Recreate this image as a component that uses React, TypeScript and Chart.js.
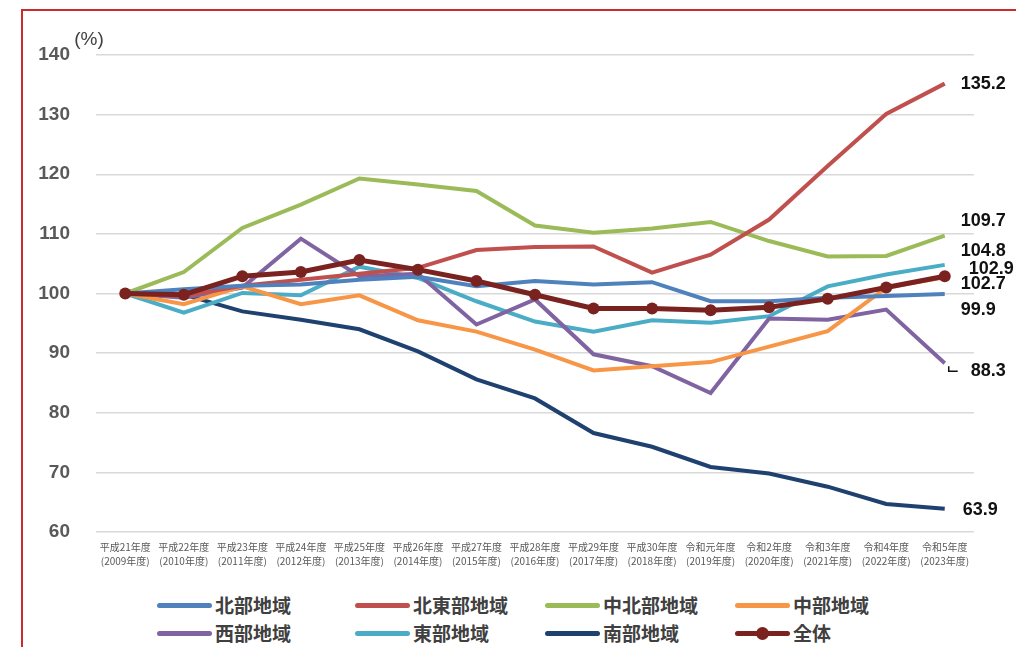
import React, { useEffect, useRef } from 'react';
import { Chart, registerables } from 'chart.js';

Chart.register(...registerables);

// ---- data ----
const eraLabels = [
  '平成21年度', '平成22年度', '平成23年度', '平成24年度', '平成25年度',
  '平成26年度', '平成27年度', '平成28年度', '平成29年度', '平成30年度',
  '令和元年度', '令和2年度', '令和3年度', '令和4年度', '令和5年度',
];
const yearLabels = [
  '(2009年度)', '(2010年度)', '(2011年度)', '(2012年度)', '(2013年度)',
  '(2014年度)', '(2015年度)', '(2016年度)', '(2017年度)', '(2018年度)',
  '(2019年度)', '(2020年度)', '(2021年度)', '(2022年度)', '(2023年度)',
];
const yTicks = [60, 70, 80, 90, 100, 110, 120, 130, 140];

const hokubu = [100, 100.7, 101.3, 101.5, 102.3, 102.8, 101.2, 102.1, 101.5, 101.9, 98.7, 98.7, 99.3, 99.6, 99.9];
const hokutobu = [100, 99.6, 101.3, 102.3, 103.3, 104.3, 107.3, 107.8, 107.9, 103.5, 106.5, 112.4, 121.4, 130.1, 135.2];
const chuhokubu = [100, 103.6, 111.0, 114.9, 119.3, 118.3, 117.2, 111.4, 110.2, 110.9, 112.0, 108.8, 106.2, 106.3, 109.7];
const chubu = [100, 98.2, 101.2, 98.2, 99.7, 95.5, 93.6, 90.6, 87.1, 87.8, 88.5, 91.1, 93.7, 101.0, 102.7];
const seibu = [100, 99.3, 101.0, 109.2, 102.9, 103.3, 94.8, 99.0, 89.8, 87.8, 83.3, 95.8, 95.6, 97.3, 88.3];
const tobu = [100, 96.8, 100.1, 99.7, 104.5, 102.6, 98.7, 95.3, 93.6, 95.5, 95.1, 96.2, 101.2, 103.2, 104.8];
const nanbu = [100, 99.8, 97.0, 95.6, 94.0, 90.3, 85.6, 82.4, 76.6, 74.3, 70.9, 69.8, 67.6, 64.7, 63.9];
const zentai = [100, 99.8, 102.9, 103.6, 105.6, 104.0, 102.1, 99.8, 97.5, 97.5, 97.2, 97.7, 99.1, 101.0, 102.9];

const seriesNames = ['北部地域', '北東部地域', '中北部地域', '中部地域', '西部地域', '東部地域', '南部地域', '全体'];
const seriesValues = [hokubu, hokutobu, chuhokubu, chubu, seibu, tobu, nanbu, zentai];
const seriesColors = ['#4F81BD', '#C0504D', '#9BBB59', '#F79646', '#8064A2', '#4BACC6', '#1F4170', '#7A2220'];
// end-label placement (px offsets from last point)
const endLabelDx = [16, 16, 16, 16, 26, 16, 18, 24];
const endLabelDy = [16, 0, -15, 7, 8, -14, 1, -7];

const W = 1016;
const H = 580;

const endLabelPlugin = {
  id: 'endLabels',
  afterDatasetsDraw(chart: any) {
    const ctx = chart.ctx;
    ctx.save();
    ctx.font = 'bold 18px "Liberation Sans", Arial, sans-serif';
    ctx.fillStyle = '#111111';
    ctx.textBaseline = 'middle';
    ctx.textAlign = 'left';
    chart.data.datasets.forEach((ds: any, i: number) => {
      const meta = chart.getDatasetMeta(i);
      const pt = meta.data[meta.data.length - 1];
      const v = ds.data[ds.data.length - 1];
      const x = pt.x + endLabelDx[i];
      const y = pt.y + endLabelDy[i];
      ctx.fillText(v.toFixed(1), x, y);
      if (i === 4) {
        ctx.strokeStyle = '#111111';
        ctx.lineWidth = 1.5;
        ctx.beginPath();
        ctx.moveTo(pt.x + 4, y - 5);
        ctx.lineTo(pt.x + 4, y);
        ctx.lineTo(pt.x + 13, y);
        ctx.stroke();
      }
    });
    // unit label
    ctx.font = '19px "Liberation Sans", Arial, sans-serif';
    ctx.fillStyle = '#404040';
    ctx.textAlign = 'center';
    ctx.fillText('(%)', 89, 40);
    ctx.restore();
  },
};

function ChartCanvas() {
  const ref = useRef<HTMLCanvasElement | null>(null);
  useEffect(() => {
    if (!ref.current) return;
    const labels = eraLabels.map((e, i) => [e, yearLabels[i]]);
    const datasets = seriesNames.map((name, i) => {
      const isTotal = i === seriesNames.length - 1;
      return {
        label: name,
        data: seriesValues[i],
        borderColor: seriesColors[i],
        backgroundColor: seriesColors[i],
        borderWidth: isTotal ? 5 : 4,
        pointRadius: isTotal ? 6 : 0,
        pointHoverRadius: isTotal ? 6 : 0,
        pointBorderWidth: 0,
        tension: 0,
        fill: false,
        order: isTotal ? 0 : i + 1,
      };
    });
    const chart = new Chart(ref.current, {
      type: 'line',
      data: { labels, datasets },
      options: {
        animation: false,
        responsive: false,
        devicePixelRatio: 1,
        layout: { padding: { top: 55, right: W - 974, left: 0, bottom: 0 } },
        plugins: { legend: { display: false }, tooltip: { enabled: false } },
        scales: {
          x: {
            offset: true,
            grid: { display: false, drawTicks: false },
            border: { display: false },
            ticks: {
              autoSkip: false,
              maxRotation: 0,
              padding: 8,
              color: '#595959',
              font: { size: 10, family: '"Noto Sans CJK JP", sans-serif', lineHeight: 1.4 },
            },
            afterFit: (s: any) => { s.height = 48; },
          },
          y: {
            min: yTicks[0],
            max: yTicks[yTicks.length - 1],
            afterBuildTicks: (s: any) => { s.ticks = yTicks.map((v) => ({ value: v })); },
            grid: { color: '#d9d9d9', lineWidth: 1.5, drawTicks: false },
            border: { display: false },
            ticks: {
              padding: 26,
              color: '#595959',
              font: { size: 19, weight: 'bold', family: '"Liberation Sans", Arial, sans-serif' },
            },
            afterFit: (s: any) => { s.width = 96; },
          },
        },
      },
      plugins: [endLabelPlugin],
    } as any);
    return () => chart.destroy();
  }, []);
  return <canvas ref={ref} width={W} height={H} style={{ position: 'absolute', left: 0, top: 0, width: W, height: H }} />;
}

const legendCols = [157, 355, 545, 735];
const legendRows = [605, 633];

function Legend() {
  return (
    <>
      {seriesNames.map((name, i) => {
        const col = i % 4;
        const row = Math.floor(i / 4);
        const isTotal = i === seriesNames.length - 1;
        return (
          <div
            key={name}
            style={{
              position: 'absolute',
              left: legendCols[col],
              top: legendRows[row] - 14,
              height: 28,
              display: 'flex',
              alignItems: 'center',
              whiteSpace: 'nowrap',
            }}
          >
            <div style={{ position: 'relative', width: 55, height: 5, background: seriesColors[i], borderRadius: 2.5 }}>
              {isTotal && (
                <div
                  style={{
                    position: 'absolute',
                    left: 21,
                    top: -4,
                    width: 13,
                    height: 13,
                    borderRadius: '50%',
                    background: seriesColors[i],
                  }}
                />
              )}
            </div>
            <span
              style={{
                marginLeft: 3,
                fontFamily: '"Noto Sans CJK JP", sans-serif',
                fontWeight: 700,
                fontSize: 19,
                color: '#404040',
                lineHeight: '28px',
              }}
            >
              {name}
            </span>
          </div>
        );
      })}
    </>
  );
}

export default function App() {
  return (
    <div style={{ position: 'absolute', left: 0, top: 0, width: W, height: 647, background: '#ffffff', overflow: 'hidden' }}>
      <div
        style={{
          position: 'absolute',
          left: 21,
          top: 9,
          width: 1100,
          height: 800,
          borderLeft: '2px solid #cc2b2b',
          borderTop: '2px solid #cc2b2b',
        }}
      />
      <ChartCanvas />
      <Legend />
    </div>
  );
}
